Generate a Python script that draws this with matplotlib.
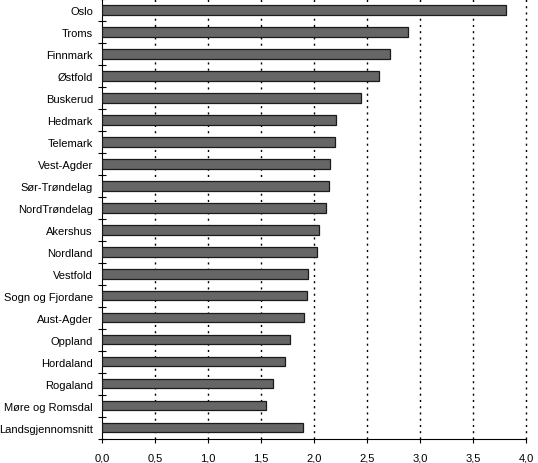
import matplotlib
matplotlib.use("Agg")
import matplotlib.pyplot as plt
import numpy as np
from matplotlib.ticker import FixedLocator, FuncFormatter

plt.rcParams['font.family'] = ['Liberation Sans', 'DejaVu Sans']

categories = ["Oslo", "Troms", "Finnmark", "Østfold", "Buskerud", "Hedmark", "Telemark",
              "Vest-Agder", "Sør-Trøndelag", "NordTrøndelag", "Akershus", "Nordland",
              "Vestfold", "Sogn og Fjordane", "Aust-Agder", "Oppland", "Hordaland",
              "Rogaland", "Møre og Romsdal", "Landsgjennomsnitt"]
values = [3.81, 2.89, 2.72, 2.615, 2.445, 2.205, 2.20, 2.15, 2.14, 2.115, 2.05, 2.03,
          1.945, 1.935, 1.907, 1.778, 1.73, 1.613, 1.549, 1.90]
xticks = [0.0, 0.5, 1.0, 1.5, 2.0, 2.5, 3.0, 3.5, 4.0]

fig = plt.figure(figsize=(5.38, 4.64), dpi=100)
ax = fig.add_axes([0.1896, 0.0528, 0.7881, 0.9472])

y = np.arange(len(categories))
ax.barh(y, values, height=0.44, color='#666666', edgecolor='#1a1a1a', linewidth=0.9, zorder=3)

ax.set_xlim(0, 4.0)
ax.set_ylim(len(categories) - 0.5, -0.5)

for xv in xticks[1:]:
    ax.axvline(xv, color='black', linewidth=1.0, linestyle=(0, (1.5, 3)), zorder=1, clip_on=False)

ax.set_xticks(xticks)
ax.xaxis.set_major_formatter(FuncFormatter(lambda v, p: f"{v:.1f}".replace('.', ',')))
ax.tick_params(axis='x', direction='out', length=3, width=0.8, pad=7, labelsize=8, colors='black')

ax.set_yticks(y)
ax.set_yticklabels(categories)
ax.tick_params(axis='y', which='major', length=0, pad=6.5, labelsize=8)
ax.yaxis.set_minor_locator(FixedLocator(np.arange(-0.5, len(categories), 1.0)))
ax.tick_params(axis='y', which='minor', direction='inout', length=6, width=0.8)

for s in ['top', 'right']:
    ax.spines[s].set_visible(False)
for s in ['left', 'bottom']:
    ax.spines[s].set_linewidth(0.8)

fig.savefig('out.png', dpi=100)
